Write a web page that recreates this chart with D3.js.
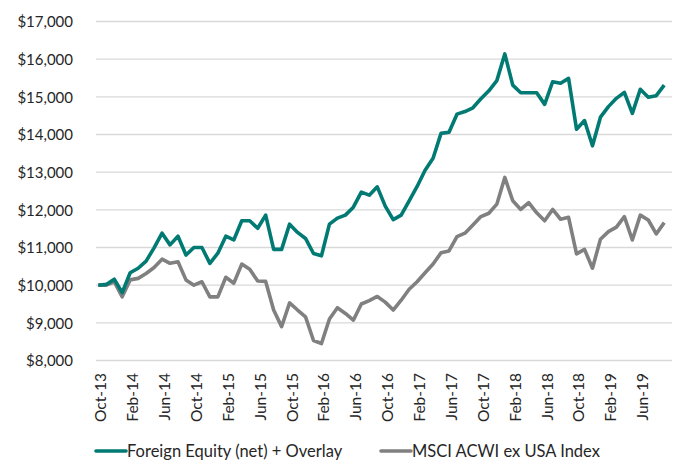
<!DOCTYPE html>
<html>
<head>
<meta charset="utf-8">
<script src="https://cdn.jsdelivr.net/npm/d3@7"></script>
<style>
  body { margin: 0; background: #fff; }
  text { font-family: Lato, "Open Sans", sans-serif; fill: #262626; }
</style>
</head>
<body>
<div id="chart-area"></div>
<script>
// months Oct-13 .. Sep-19, monthly growth of $10,000
var months = d3.timeMonth.range(new Date(2013, 9, 1), new Date(2019, 9, 1)).map(d3.timeFormat("%b-%y"));
var tickLabels = ["Oct-13", "Feb-14", "Jun-14", "Oct-14", "Feb-15", "Jun-15", "Oct-15", "Feb-16", "Jun-16",
    "Oct-16", "Feb-17", "Jun-17", "Oct-17", "Feb-18", "Jun-18", "Oct-18", "Feb-19", "Jun-19"];
var yTicks = [8000, 9000, 10000, 11000, 12000, 13000, 14000, 15000, 16000, 17000];

var foreignEquity = [10000, 10020, 10160, 9800, 10330, 10450, 10640, 10990, 11380, 11070, 11300, 10800,
    11000, 11000, 10580, 10850, 11300, 11200, 11710, 11710, 11510, 11860, 10950, 10950,
    11620, 11400, 11240, 10840, 10780, 11620, 11780, 11860, 12070, 12470, 12390, 12610,
    12100, 11740, 11860, 12240, 12620, 13050, 13370, 14030, 14060, 14540, 14610, 14710,
    14950, 15160, 15430, 16140, 15310, 15110, 15110, 15110, 14800, 15400, 15360, 15490,
    14140, 14370, 13700, 14460, 14740, 14960, 15120, 14560, 15200, 14990, 15030, 15310];
var msciAcwi = [10000, 10000, 10090, 9690, 10140, 10180, 10310, 10470, 10690, 10580, 10620, 10140,
    10000, 10090, 9690, 9690, 10210, 10050, 10560, 10420, 10110, 10100, 9340, 8900,
    9530, 9340, 9160, 8530, 8450, 9100, 9400, 9250, 9070, 9500, 9590, 9700,
    9550, 9340, 9600, 9890, 10090, 10330, 10560, 10860, 10910, 11290, 11380, 11600,
    11820, 11910, 12150, 12860, 12240, 12010, 12190, 11920, 11710, 12010, 11750, 11800,
    10830, 10950, 10450, 11220, 11420, 11540, 11820, 11200, 11860, 11730, 11360, 11660];

var seriesNames = ["Foreign Equity (net) + Overlay", "MSCI ACWI ex USA Index"];
var seriesColors = ["#007a72", "#808080"];

var width = 673, height = 462;
var svg = d3.select("#chart-area").append("svg")
    .attr("width", width)
    .attr("height", height);

var x = d3.scalePoint()
    .domain(months)
    .range([94.3, 668.2])
    .padding(0.5);
var y = d3.scaleLinear()
    .domain([8000, 17000])
    .range([360.5, 21.5]);

// gridlines
svg.append("g").selectAll("line")
    .data(yTicks)
    .enter().append("line")
    .attr("x1", 96).attr("x2", 672)
    .attr("y1", function(d) { return y(d); })
    .attr("y2", function(d) { return y(d); })
    .attr("stroke", "#d9d9d9")
    .attr("stroke-width", 1.3);

// Y Axis
var yAxisCall = d3.axisLeft(y)
    .tickValues(yTicks)
    .tickSize(0)
    .tickPadding(0)
    .tickFormat(function(d) { return "$" + d3.format(",")(d); });
var yAxis = svg.append("g")
    .attr("transform", "translate(73,0)")
    .call(yAxisCall);
yAxis.select(".domain").remove();
yAxis.selectAll("text")
    .attr("font-size", "15px")
    .attr("dy", "0.35em")
    .style("font-family", "Lato, sans-serif");

// X Axis
var xAxisCall = d3.axisBottom(x)
    .tickValues(tickLabels)
    .tickSize(0)
    .tickPadding(0);
var xAxis = svg.append("g")
    .attr("transform", "translate(2,373)")
    .call(xAxisCall);
xAxis.select(".domain").remove();
xAxis.selectAll("text")
    .attr("font-size", "15.5px")
    .attr("transform", "rotate(-90)")
    .attr("text-anchor", "end")
    .attr("x", 0)
    .attr("y", 0)
    .attr("dx", 0)
    .attr("dy", "0.35em")
    .style("font-family", "Lato, sans-serif");

// lines
var line = d3.line()
    .x(function(d, i) { return x(months[i]); })
    .y(function(d) { return y(d); });

[msciAcwi, foreignEquity].forEach(function(vals, k) {
    svg.append("path")
        .datum(vals)
        .attr("fill", "none")
        .attr("stroke", k === 0 ? seriesColors[1] : seriesColors[0])
        .attr("stroke-width", 3.6)
        .attr("stroke-linejoin", "round")
        .attr("d", line);
});

// legend
var legendX = [96, 381];
var legend = svg.append("g").selectAll("g")
    .data(seriesNames)
    .enter().append("g")
    .attr("transform", function(d, i) { return "translate(" + legendX[i] + ",451)"; });
legend.append("line")
    .attr("x1", 0).attr("x2", 30)
    .attr("stroke", function(d, i) { return seriesColors[i]; })
    .attr("stroke-width", 3.6)
    .attr("stroke-linecap", "round");
legend.append("text")
    .attr("x", 31)
    .attr("dy", "0.35em")
    .attr("font-size", "16.5px")
    .text(function(d) { return d; });
</script>
</body>
</html>
